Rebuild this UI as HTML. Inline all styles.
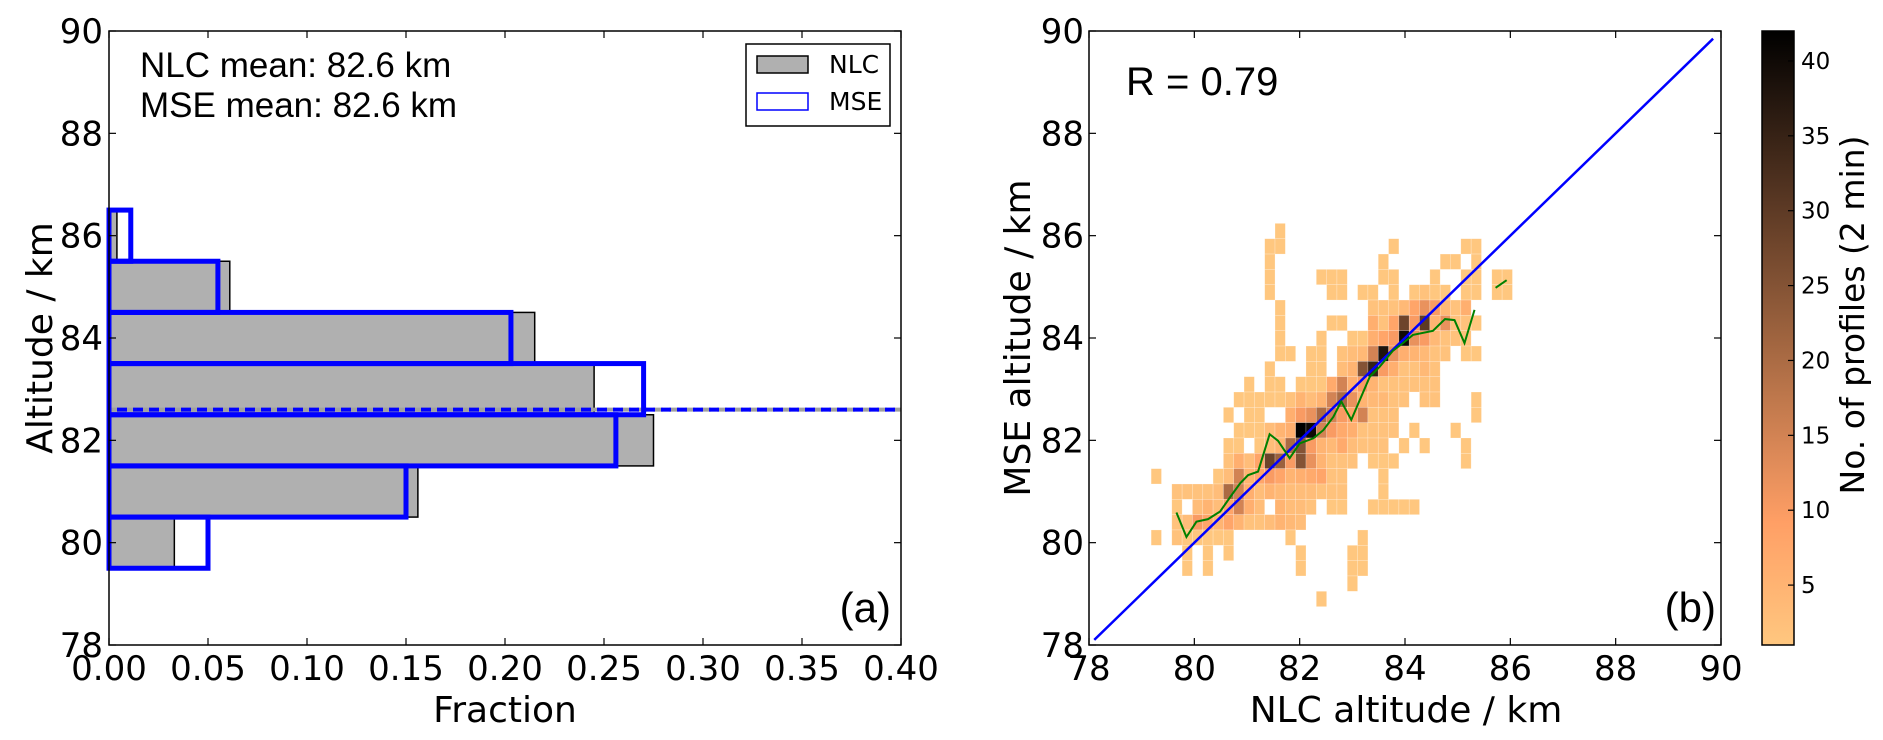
<!DOCTYPE html>
<html><head><meta charset="utf-8"><style>
html,body{margin:0;padding:0;background:#fff;}
svg{display:block;}
text{font-family:"DejaVu Sans","Liberation Sans",sans-serif;fill:#000;}
</style></head><body>
<svg id="fig" width="1883" height="740" viewBox="0 0 1883 740" xmlns="http://www.w3.org/2000/svg">
<defs><linearGradient id="cmap" x1="0" y1="1" x2="0" y2="0"></linearGradient></defs>
<g id="left"></g>
<g id="right"></g>
<g id="cbar"></g>
</svg>
<script>
// ---------- data ----------
const altBins = [80, 81, 82, 83, 84, 85, 86];
const nlcFraction = [0.033, 0.156, 0.275, 0.245, 0.215, 0.061, 0.004];
const mseFraction = [0.050, 0.150, 0.256, 0.270, 0.203, 0.055, 0.011];
const nlcMean = 82.6;
const mseMean = 82.6;
const fracTicks = ["0.00","0.05","0.10","0.15","0.20","0.25","0.30","0.35","0.40"];
const altTicks = [78, 80, 82, 84, 86, 88, 90];
const cbarTicks = [5, 10, 15, 20, 25, 30, 35, 40];
const countMin = 1, countMax = 42;
// 2D histogram binning (km)
const heatX0 = 79.18, heatDX = 0.196, heatYTop = 86.24, heatDY = 0.2996;
// each row (top to bottom): [column, count] pairs
const heatRows = [
 [[12,1]],
 [[11,1],[12,1],[23,1],[30,1],[31,1]],
 [[11,1],[22,1],[28,1],[29,1],[31,1]],
 [[11,1],[16,1],[17,1],[18,1],[22,1],[23,1],[27,1],[30,1],[31,1],[33,1],[34,1]],
 [[11,1],[17,1],[18,1],[20,1],[21,1],[23,1],[25,1],[26,2],[27,1],[28,1],[30,1],[31,1],[33,1],[34,1]],
 [[12,1],[21,2],[22,2],[23,2],[24,4],[25,8],[26,12],[27,10],[28,4],[29,2],[30,6]],
 [[12,1],[17,1],[18,1],[21,6],[22,2],[23,8],[24,28],[25,10],[26,30],[27,5],[28,12],[29,2],[30,2],[31,1]],
 [[12,1],[16,1],[19,1],[20,1],[21,6],[22,8],[23,10],[24,40],[25,12],[26,10],[27,4],[28,2],[29,2],[30,2]],
 [[12,1],[13,1],[15,1],[16,1],[18,2],[19,3],[20,4],[21,15],[22,38],[23,12],[24,6],[25,5],[26,4],[27,2],[28,2],[30,1],[31,1]],
 [[11,1],[15,1],[16,1],[18,3],[19,5],[20,25],[21,35],[22,10],[23,6],[24,2],[25,2],[26,4],[27,2]],
 [[9,1],[11,1],[12,1],[14,1],[15,1],[16,1],[17,7],[18,15],[19,6],[20,10],[21,5],[22,2],[23,2],[24,2],[25,2],[26,2],[27,2]],
 [[8,1],[9,1],[10,1],[11,1],[12,1],[13,2],[14,5],[15,3],[16,5],[17,15],[18,20],[19,12],[20,5],[21,4],[22,4],[23,2],[24,2],[26,2],[27,2],[31,1]],
 [[7,1],[9,1],[10,1],[13,6],[14,10],[15,12],[16,20],[17,15],[18,10],[19,8],[20,15],[21,2],[22,2],[23,2],[31,1]],
 [[8,1],[9,1],[10,1],[11,3],[12,5],[13,6],[14,42],[15,40],[16,15],[17,10],[18,7],[19,6],[20,2],[21,2],[22,2],[23,2],[25,1],[29,1]],
 [[7,1],[8,1],[10,1],[11,3],[12,5],[13,20],[14,25],[15,10],[16,5],[17,4],[18,7],[19,3],[20,2],[21,2],[22,2],[24,1],[26,1],[30,1]],
 [[7,2],[8,6],[9,3],[10,8],[11,28],[12,22],[13,10],[14,25],[15,12],[16,5],[17,2],[18,2],[19,2],[21,1],[22,1],[23,1],[30,1]],
 [[0,1],[6,1],[7,3],[8,15],[9,5],[10,8],[11,10],[12,8],[13,5],[14,6],[15,7],[16,8],[17,2],[18,2],[22,1]],
 [[2,2],[3,2],[4,2],[5,2],[6,3],[7,20],[8,15],[9,6],[10,3],[11,5],[12,4],[13,3],[14,3],[15,3],[16,2],[17,2],[18,2],[22,1]],
 [[2,1],[4,3],[5,5],[6,3],[7,8],[8,15],[9,6],[10,3],[12,5],[13,3],[14,3],[15,2],[17,1],[18,1],[21,1],[22,1],[23,1],[24,1],[25,1]],
 [[2,2],[3,3],[4,10],[5,8],[6,5],[7,8],[8,5],[9,2],[10,2],[11,3],[12,5],[13,4],[14,3]],
 [[0,1],[2,2],[3,1],[4,1],[5,1],[6,1],[7,1],[13,1],[20,1]],
 [[3,1],[5,1],[7,1],[14,1],[19,1],[20,1]],
 [[3,1],[5,1],[14,1],[19,1],[20,1]],
 [[19,1]],
 [[16,1]]
];
// running mean (green) line
const meanNlc = [79.66,79.85,80.04,80.26,80.49,80.68,80.87,81.02,81.21,81.43,81.59,81.81,82.0,82.26,82.45,82.64,82.79,82.98,83.33,83.52,83.77,83.96,84.15,84.53,84.76,84.94,85.13,85.32];
const meanMse = [80.59,80.11,80.41,80.46,80.61,80.89,81.16,81.32,81.39,82.12,81.99,81.65,81.94,82.04,82.20,82.46,82.76,82.40,83.24,83.44,83.75,83.90,84.06,84.14,84.37,84.35,83.90,84.55];
const meanNlc2 = [85.72, 85.93];
const meanMse2 = [84.98, 85.13];
const rValue = "R = 0.79";

// ---------- helpers ----------
const NS = "http://www.w3.org/2000/svg";
function mk(parent, tag, attrs, txt){
  const e = document.createElementNS(NS, tag);
  for (const k in attrs) e.setAttribute(k, attrs[k]);
  if (txt !== undefined) e.textContent = txt;
  parent.appendChild(e);
  return e;
}
// axes
const AX_TOP = 31, AX_BOT = 645;
const L_X0 = 109, L_X1 = 901, R_X0 = 1089, R_X1 = 1721;
const fx = v => L_X0 + v / 0.40 * (L_X1 - L_X0);
const fy = km => AX_TOP + (90 - km) / 12 * (AX_BOT - AX_TOP);
const gx = km => R_X0 + (km - 78) / 12 * (R_X1 - R_X0);
function copperR(v){
  let t = (v - countMin) / (countMax - countMin);
  t = Math.max(0, Math.min(1, t));
  const c = 1 - t;
  const r = Math.min(1, 1.25 * c), g = 0.7812 * c, b = 0.4975 * c;
  return `rgb(${Math.round(r*255)},${Math.round(g*255)},${Math.round(b*255)})`;
}

// ---------- left panel ----------
const L = document.getElementById('left');
altBins.forEach((k, i) => {
  const r = mk(L, 'rect', {x: fx(0), y: fy(k + 0.5), width: fx(nlcFraction[i]) - fx(0), height: fy(k - 0.5) - fy(k + 0.5), fill: '#b0b0b0', stroke: '#000', 'stroke-width': 1.5});
  
  
});
// mean lines
const ml1 = mk(L, 'line', {x1: fx(0), x2: L_X1, y1: fy(nlcMean), y2: fy(nlcMean), stroke: '#a0a0a0', 'stroke-width': 4, 'stroke-dasharray': '10 6'});


const ml2 = mk(L, 'line', {x1: fx(0), x2: L_X1, y1: fy(mseMean), y2: fy(mseMean), stroke: '#0000ff', 'stroke-width': 4, 'stroke-dasharray': '10 6', 'stroke-dashoffset': 8});


altBins.forEach((k, i) => {
  const r = mk(L, 'rect', {x: fx(0), y: fy(k + 0.5), width: fx(mseFraction[i]) - fx(0), height: fy(k - 0.5) - fy(k + 0.5), fill: 'none', stroke: '#0000ff', 'stroke-width': 5});
  
  
});
// frame
const lf = mk(L, 'rect', {x: L_X0, y: AX_TOP, width: L_X1 - L_X0, height: AX_BOT - AX_TOP, fill: 'none', stroke: '#000', 'stroke-width': 1.5});


fracTicks.forEach(t => {
  const x = fx(parseFloat(t));
  mk(L, 'line', {x1: x, x2: x, y1: AX_BOT, y2: AX_BOT - 7, stroke: '#000', 'stroke-width': 1.2});
  mk(L, 'line', {x1: x, x2: x, y1: AX_TOP, y2: AX_TOP + 7, stroke: '#000', 'stroke-width': 1.2});
  const tl = mk(L, 'text', {x: x, y: 680, 'font-size': 34, 'text-anchor': 'middle'}, t);
  
  
});
altTicks.forEach(t => {
  const y = fy(t);
  mk(L, 'line', {x1: L_X0, x2: L_X0 + 7, y1: y, y2: y, stroke: '#000', 'stroke-width': 1.2});
  mk(L, 'line', {x1: L_X1, x2: L_X1 - 7, y1: y, y2: y, stroke: '#000', 'stroke-width': 1.2});
  const tl = mk(L, 'text', {x: 103, y: y + 12, 'font-size': 34, 'text-anchor': 'end'}, String(t));
  
  
});
</script>
<script>
(function(){
const L = document.getElementById('left');
let t;
t = mk(L, 'text', {x: 505, y: 722, 'font-size': 36, 'text-anchor': 'middle'}, 'Fraction');


t = mk(L, 'text', {x: 0, y: 0, 'font-size': 36, 'text-anchor': 'middle', transform: 'translate(52,338) rotate(-90)'}, 'Altitude / km');


t = mk(L, 'text', {x: 140, y: 77, 'font-size': 35, style: 'font-family:"Liberation Sans",sans-serif'}, 'NLC mean: 82.6 km');


t = mk(L, 'text', {x: 140, y: 117, 'font-size': 35, style: 'font-family:"Liberation Sans",sans-serif'}, 'MSE mean: 82.6 km');


t = mk(L, 'text', {x: 891, y: 622, 'font-size': 42, 'text-anchor': 'end', style: 'font-family:"Liberation Sans",sans-serif'}, '(a)');


// legend
const lg = mk(L, 'g', {});


mk(lg, 'rect', {x: 746, y: 44, width: 144, height: 82, fill: '#fff', stroke: '#000', 'stroke-width': 1.5});
const e1 = mk(lg, 'rect', {x: 757, y: 56, width: 51, height: 17, fill: '#b0b0b0', stroke: '#000', 'stroke-width': 1.5});


mk(lg, 'text', {x: 829, y: 73, 'font-size': 25}, 'NLC');
const e2 = mk(lg, 'rect', {x: 757, y: 93, width: 51, height: 17, fill: '#fff', stroke: '#0000ff', 'stroke-width': 1.5});


mk(lg, 'text', {x: 829, y: 110, 'font-size': 25}, 'MSE');

// ---------- right panel ----------
const R = document.getElementById('right');
heatRows.forEach((row, r) => {
  const yTop = heatYTop - r * heatDY;
  row.forEach(([c, v]) => {
    const xl = heatX0 + c * heatDX;
    const cell = mk(R, 'rect', {x: gx(xl), y: fy(yTop), width: gx(xl + heatDX) - gx(xl), height: fy(yTop - heatDY) - fy(yTop), fill: copperR(v), stroke: 'rgba(255,255,255,0.35)', 'stroke-width': 0.6});
    
    
  });
});
const diag = mk(R, 'line', {x1: gx(78.1), y1: fy(78.1), x2: gx(89.85), y2: fy(89.85), stroke: '#0000ff', 'stroke-width': 2.5});


const gp = mk(R, 'polyline', {points: meanNlc.map((v, i) => gx(v) + ',' + fy(meanMse[i])).join(' '), fill: 'none', stroke: '#008000', 'stroke-width': 2});


const gp2 = mk(R, 'polyline', {points: meanNlc2.map((v, i) => gx(v) + ',' + fy(meanMse2[i])).join(' '), fill: 'none', stroke: '#008000', 'stroke-width': 2});


const rf = mk(R, 'rect', {x: R_X0, y: AX_TOP, width: R_X1 - R_X0, height: AX_BOT - AX_TOP, fill: 'none', stroke: '#000', 'stroke-width': 1.5});


altTicks.forEach(v => {
  const x = gx(v), y = fy(v);
  mk(R, 'line', {x1: x, x2: x, y1: AX_BOT, y2: AX_BOT - 7, stroke: '#000', 'stroke-width': 1.2});
  mk(R, 'line', {x1: x, x2: x, y1: AX_TOP, y2: AX_TOP + 7, stroke: '#000', 'stroke-width': 1.2});
  mk(R, 'line', {x1: R_X0, x2: R_X0 + 7, y1: y, y2: y, stroke: '#000', 'stroke-width': 1.2});
  mk(R, 'line', {x1: R_X1, x2: R_X1 - 7, y1: y, y2: y, stroke: '#000', 'stroke-width': 1.2});
  const a = mk(R, 'text', {x: x, y: 680, 'font-size': 34, 'text-anchor': 'middle'}, String(v));
  
  
  const b = mk(R, 'text', {x: 1084, y: y + 12, 'font-size': 34, 'text-anchor': 'end'}, String(v));
  
  
});
t = mk(R, 'text', {x: 1406, y: 722, 'font-size': 36, 'text-anchor': 'middle'}, 'NLC altitude / km');


t = mk(R, 'text', {x: 0, y: 0, 'font-size': 36, 'text-anchor': 'middle', transform: 'translate(1030,338) rotate(-90)'}, 'MSE altitude / km');


t = mk(R, 'text', {x: 1126, y: 95, 'font-size': 40, style: 'font-family:"Liberation Sans",sans-serif'}, rValue);


t = mk(R, 'text', {x: 1716, y: 622, 'font-size': 42, 'text-anchor': 'end', style: 'font-family:"Liberation Sans",sans-serif'}, '(b)');



// ---------- colorbar ----------
const C = document.getElementById('cbar');
const grad = document.getElementById('cmap');
for (let i = 0; i <= 20; i++) {
  const v = countMin + (countMax - countMin) * i / 20;
  mk(grad, 'stop', {offset: (i * 5) + '%', 'stop-color': copperR(v)});
}
const CB_X0 = 1762, CB_X1 = 1794;
const cy = v => AX_BOT - (v - countMin) / (countMax - countMin) * (AX_BOT - AX_TOP);
const cb = mk(C, 'rect', {x: CB_X0, y: AX_TOP, width: CB_X1 - CB_X0, height: AX_BOT - AX_TOP, fill: 'url(#cmap)', stroke: '#000', 'stroke-width': 1.5});


cbarTicks.forEach(v => {
  const y = cy(v);
  mk(C, 'line', {x1: CB_X1, x2: CB_X1 - 6, y1: y, y2: y, stroke: '#000', 'stroke-width': 1.2});
  const tl = mk(C, 'text', {x: 1801, y: y + 8, 'font-size': 23}, String(v));
  
  
});
t = mk(C, 'text', {x: 0, y: 0, 'font-size': 33, 'text-anchor': 'middle', transform: 'translate(1864,315) rotate(-90)'}, 'No. of profiles (2 min)');


})();
</script>
</body></html>
